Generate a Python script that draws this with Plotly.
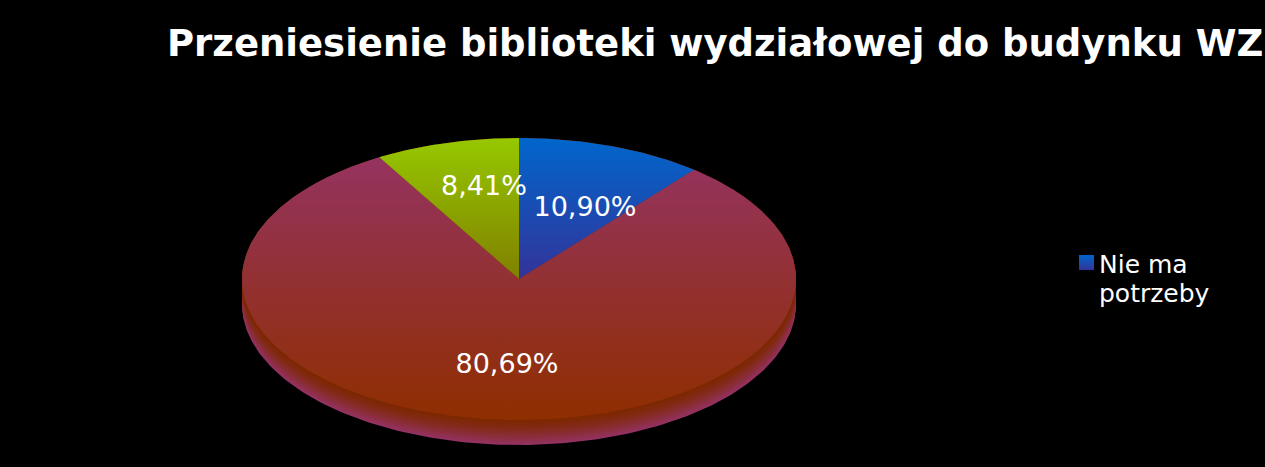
import numpy as np
import plotly.graph_objects as go

title = "Przeniesienie biblioteki wydziałowej do budynku WZ"
values = [10.90, 80.69, 8.41]
slice_top = ["#0066cc", "#953360", "#96c800"]
slice_bottom = ["#333399", "#8f2e00", "#808000"]
legend_lines = ["Nie ma", "potrzeby"]

W, H = 1265, 467
CX, CY, RX, RY = 519, 279, 277, 141
DEPTH = 25
label_px = [(585, 209.5), (507, 366), (484, 188.5)]
legend_line_px = [264, 293]


def wedge(a0, a1):
    t = np.radians(np.linspace(a0, a1, max(int((a1 - a0) * 2), 8)))
    return np.r_[0, np.sin(t), 0], np.r_[0, np.cos(t), 0]


def mix(a, b, f):
    return "rgb(%d,%d,%d)" % tuple(round(p + (q - p) * f) for p, q in zip(a, b))


def dx(px):
    return (px - CX) / RX


def dy(py):
    return (CY - py) / RY


fig = go.Figure()
t = np.radians(np.linspace(0, 360, 361))
layers = 18
for i in range(layers, -1, -1):
    f = i / layers
    off = f * DEPTH / RY
    fig.add_trace(go.Scatter(x=np.sin(t), y=np.cos(t) - off, mode="lines", fill="toself",
                             line=dict(width=0),
                             fillcolor=mix((125, 40, 0), (148, 50, 98), f ** 1.4),
                             hoverinfo="skip", showlegend=False))

start = 0.0
total = sum(values)
for v, c0, c1 in zip(values, slice_top, slice_bottom):
    end = start + v / total * 360
    x, y = wedge(start, end)
    fig.add_trace(go.Scatter(x=x, y=y, mode="lines", fill="toself", line=dict(width=0),
                             fillgradient=dict(type="vertical", colorscale=[[0, c1], [1, c0]]),
                             hoverinfo="skip", showlegend=False))
    start = end

fig.add_trace(go.Scatter(
    x=[dx(p[0]) for p in label_px], y=[dy(p[1]) for p in label_px], mode="text",
    text=[f"{v:.2f}%".replace(".", ",") for v in values],
    textfont=dict(family="DejaVu Sans", size=27, color="white"),
    hoverinfo="skip", showlegend=False))

fig.add_trace(go.Scatter(
    x=[dx(1086.5)], y=[dy(262.5)], mode="markers",
    marker=dict(symbol="square", size=15, color=slice_top[0], line=dict(width=0),
                gradient=dict(type="vertical", color=slice_bottom[0])),
    hoverinfo="skip", showlegend=False))

for line, py in zip(legend_lines, legend_line_px):
    fig.add_annotation(x=1098 / W, y=1 - py / H, xref="paper", yref="paper", text=line,
                       showarrow=False, xanchor="left", yanchor="middle", align="left", borderpad=0,
                       font=dict(family="DejaVu Sans", size=25, color="white"))
fig.add_annotation(x=714.5 / W, y=1 - 43 / H, xref="paper", yref="paper", text=f"<b>{title}</b>",
                   showarrow=False, xanchor="center", yanchor="middle", borderpad=0,
                   font=dict(family="DejaVu Sans", size=37, color="white"))

fig.update_layout(
    width=W, height=H, autosize=False,
    margin=dict(l=0, r=0, t=0, b=0),
    paper_bgcolor="black", plot_bgcolor="black", showlegend=False,
    xaxis=dict(range=[dx(0), dx(W)], visible=False, fixedrange=True),
    yaxis=dict(range=[dy(H), dy(0)], visible=False, fixedrange=True),
)
fig.write_html("out.html", config={"displayModeBar": False},
               post_script="document.body.style.margin='0';document.body.style.background='black';"
                           "document.documentElement.style.overflow='hidden';")
